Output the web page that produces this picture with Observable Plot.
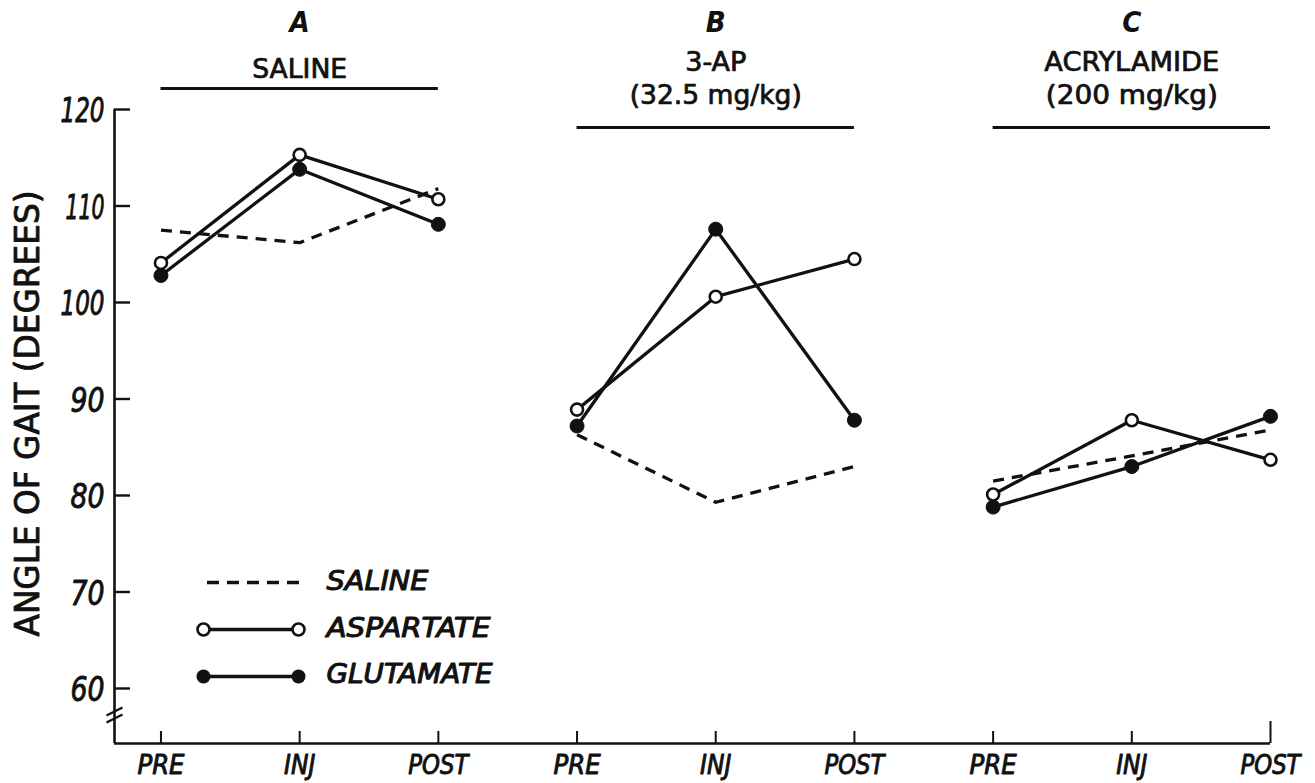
<!DOCTYPE html>
<html><head><meta charset="utf-8">
<script src="https://cdn.jsdelivr.net/npm/d3@7"></script>
<script src="https://cdn.jsdelivr.net/npm/@observablehq/plot@0.6"></script>
<style>
body{margin:0;background:#fff;}
#chart svg{display:block;}
</style>
</head><body><div id="chart"></div>
<script>
// ---------- data ----------
const phases = ["PRE", "INJ", "POST"];
const panels = ["A", "B", "C"];
const panelTitles = [["SALINE"], ["3-AP", "(32.5 mg/kg)"], ["ACRYLAMIDE", "(200 mg/kg)"]];
const salineValues    = [107.5, 106.2, 111.8,  86.3,  79.3,  83.0,  81.5, 84.1, 86.8];
const aspartateValues = [104.1, 115.3, 110.7,  88.9, 100.6, 104.5,  80.1, 87.8, 83.7];
const glutamateValues = [102.8, 113.8, 108.1,  87.2, 107.6,  87.8,  78.8, 83.0, 88.2];
const yTicks = [60, 70, 80, 90, 100, 110, 120];
const yLabel = "ANGLE OF GAIT (DEGREES)";
const legendNames = ["SALINE", "ASPARTATE", "GLUTAMATE"];

// ---------- layout ----------
const W = 1315, H = 783;
const mL = 114, mR = 45, mT = 109, mB = 40;
const X0 = -0.335, X1 = 8, YMIN = 54.3, YMAX = 120;
const pxX = (W - mL - mR) / (X1 - X0);
const pxY = (H - mT - mB) / (YMAX - YMIN);
const pixToX = px => X0 + (px - mL) / pxX;
const pixToY = py => YMAX - (py - mT) / pxY;
const FONT = "'DejaVu Sans Condensed','DejaVu Sans',sans-serif";

// ---------- tables ----------
const rows = [];
panels.forEach((p, gi) => phases.forEach((ph, pi) => {
  const i = gi * 3 + pi;
  rows.push({i, panel: p, phase: ph,
    saline: salineValues[i], aspartate: aspartateValues[i], glutamate: glutamateValues[i]});
}));
const panelRows = panels.map((p, gi) => ({panel: p, cx: gi * 3 + 1, x1: gi * 3, x2: gi * 3 + 2, lines: panelTitles[gi]}));
const titleLines = panelRows.flatMap(d => d.lines.map((t, k) => ({cx: d.cx, text: t, k, n: d.lines.length})));

const ink = "#111";
const lineW = 3.3;

const chart = Plot.plot({
  width: W, height: H,
  marginLeft: mL, marginRight: mR, marginTop: mT, marginBottom: mB,
  x: {domain: [X0, X1], axis: null},
  y: {domain: [YMIN, YMAX], axis: null},
  style: {fontFamily: FONT, background: "#fff", color: ink},
  marks: [
    // axes spines
    Plot.ruleX([X0], {y1: YMIN, y2: YMAX, stroke: ink, strokeWidth: 2.6}),
    Plot.ruleY([YMIN], {x1: X0, x2: X1, stroke: ink, strokeWidth: 2.6}),
    // y ticks (inward)
    Plot.ruleY(yTicks, {y: d => d, x1: X0, x2: X0 + 16 / pxX, stroke: ink, strokeWidth: 2.4}),
    // axis break
    Plot.link([0, 1], {
      x1: X0 - 8 / pxX, x2: X0 + 8 / pxX,
      y1: d => pixToY(722 - d * 7), y2: d => pixToY(714 - d * 7),
      stroke: ink, strokeWidth: 2.2
    }),
    // x ticks (inward)
    Plot.ruleX(rows, {x: "i", y1: YMIN, y2: d => YMIN + (d.i === 8 ? 22 : 12) / pxY, stroke: ink, strokeWidth: 2}),
    // y tick labels
    Plot.text(yTicks, {x: X0, y: d => d, text: d => String(d), textAnchor: "end", dx: -10, dy: 2,
      fontSize: 34, fontStyle: "italic", fill: ink, stroke: ink, strokeWidth: 0.9}),
    // x tick labels
    Plot.text(rows, {x: "i", text: "phase", frameAnchor: "bottom", lineAnchor: "middle", dy: 22,
      fontSize: 26, fontStyle: "italic", fill: ink, stroke: ink, strokeWidth: 0.9}),
    // y axis title
    Plot.text([yLabel], {frameAnchor: "left", textAnchor: "middle", lineAnchor: "middle",
      dx: -86, dy: -13, rotate: -90, text: d => d,
      fontSize: 34, fill: ink, stroke: ink, strokeWidth: 0.8}),
    // panel letters
    Plot.text(panelRows, {x: "cx", text: "panel", frameAnchor: "top", lineAnchor: "middle", dy: -87,
      fontSize: 29, fontStyle: "italic", fontWeight: "bold", fill: ink}),
    // panel titles
    Plot.text(titleLines, {x: "cx", y: d => pixToY(d.n === 1 ? 69 : (d.k === 0 ? 62 : 95)), text: "text",
      lineAnchor: "middle", fontSize: 26, fill: ink, stroke: ink, strokeWidth: 0.7}),
    // panel rules
    Plot.ruleY(panelRows, {x1: "x1", x2: "x2", y: d => pixToY(d.lines.length === 1 ? 88 : 127),
      stroke: ink, strokeWidth: 2.8}),
    // data: saline dashed
    Plot.line(rows, {x: "i", y: "saline", z: "panel", stroke: ink, strokeWidth: lineW,
      strokeDasharray: "11,8", strokeLinecap: "butt"}),
    // aspartate
    Plot.line(rows, {x: "i", y: "aspartate", z: "panel", stroke: ink, strokeWidth: lineW}),
    // glutamate
    Plot.line(rows, {x: "i", y: "glutamate", z: "panel", stroke: ink, strokeWidth: lineW}),
    Plot.dot(rows, {x: "i", y: "glutamate", r: 7, fill: ink, stroke: ink, strokeWidth: 1}),
    Plot.dot(rows, {x: "i", y: "aspartate", r: 6, fill: "#fff", stroke: ink, strokeWidth: 2.6}),
    // legend
    Plot.ruleY([0], {y: pixToY(582), x1: pixToX(207), x2: pixToX(304), stroke: ink, strokeWidth: lineW, strokeDasharray: "12,8"}),
    Plot.ruleY([0], {y: pixToY(629), x1: pixToX(203), x2: pixToX(298), stroke: ink, strokeWidth: lineW}),
    Plot.ruleY([0], {y: pixToY(676), x1: pixToX(203), x2: pixToX(298), stroke: ink, strokeWidth: lineW}),
    Plot.dot([pixToX(203), pixToX(298)], {x: d => d, y: pixToY(676), r: 7, fill: ink}),
    Plot.dot([pixToX(203), pixToX(298)], {x: d => d, y: pixToY(629), r: 6, fill: "#fff", stroke: ink, strokeWidth: 2.6}),
    Plot.text(legendNames, {x: pixToX(326), y: (d, k) => pixToY(581 + 46.5 * k), text: d => d,
      textAnchor: "start", lineAnchor: "middle", fontSize: 27, fontStyle: "italic", fill: ink, stroke: ink, strokeWidth: 1})
  ]
});

// fit text widths to the lettering of the original figure
const widthRules = [
  t => ({"120": 44, "110": 39, "100": 44})[t] || 34,          // y tick labels
  t => ({PRE: 47, POST: 60})[t],                                // x tick labels
  t => 446,                                                      // y title
  t => null,                                                     // panel letters
  t => ({"SALINE": 95, "3-AP": 61, "(32.5 mg/kg)": 172, "ACRYLAMIDE": 175, "(200 mg/kg)": 172})[t],
  t => ({SALINE: 102, ASPARTATE: 164, GLUTAMATE: 166})[t]
];
d3.select(chart).selectAll('g[aria-label="text"]').each(function(_, gi) {
  const rule = widthRules[gi];
  if (!rule) return;
  d3.select(this).selectAll("text").each(function() {
    const w = rule(this.textContent);
    if (w) { this.setAttribute("textLength", w); this.setAttribute("lengthAdjust", "spacingAndGlyphs"); }
  });
});
document.getElementById("chart").appendChild(chart);
</script>
</body></html>
